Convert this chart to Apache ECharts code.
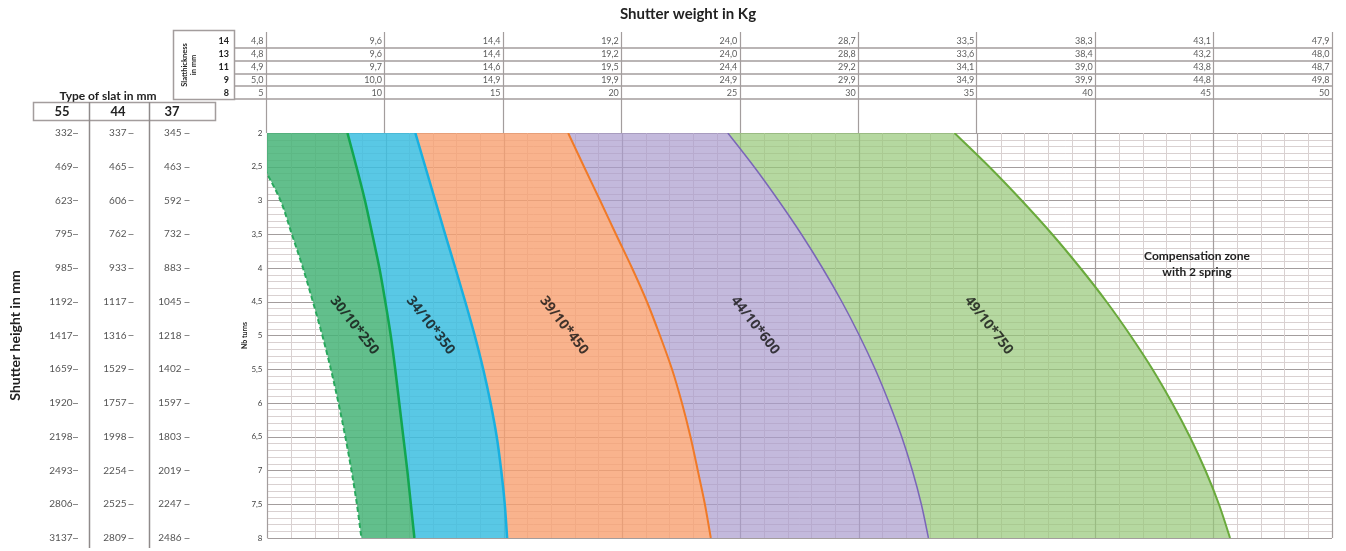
<!DOCTYPE html>
<html><head><meta charset="utf-8">
<script src="https://cdn.jsdelivr.net/npm/echarts@6/dist/echarts.min.js"></script>
<style>html,body{margin:0;padding:0;background:#fff}#c{width:1346px;height:551px}</style>
</head><body><div id="c"></div>
<script>
// ---- data ----
const weightTicks = [5, 10, 15, 20, 25, 30, 35, 40, 45, 50];
const slatThickness = ['14', '13', '11', '9', '8'];
const weightSlat14 = [4.8, 9.6, 14.4, 19.2, 24.0, 28.7, 33.5, 38.3, 43.1, 47.9];
const weightSlat13 = [4.8, 9.6, 14.4, 19.2, 24.0, 28.8, 33.6, 38.4, 43.2, 48.0];
const weightSlat11 = [4.9, 9.7, 14.6, 19.5, 24.4, 29.2, 34.1, 39.0, 43.8, 48.7];
const weightSlat9  = [5.0, 10.0, 14.9, 19.9, 24.9, 29.9, 34.9, 39.9, 44.8, 49.8];
const weightSlat8  = [5, 10, 15, 20, 25, 30, 35, 40, 45, 50];

const turns = [2, 2.5, 3, 3.5, 4, 4.5, 5, 5.5, 6, 6.5, 7, 7.5, 8];
const slatTypes = ['55', '44', '37'];
const height55 = [332, 469, 623, 795, 985, 1192, 1417, 1659, 1920, 2198, 2493, 2806, 3137];
const height44 = [337, 465, 606, 762, 933, 1117, 1316, 1529, 1757, 1998, 2254, 2525, 2809];
const height37 = [345, 463, 592, 732, 883, 1045, 1218, 1402, 1597, 1803, 2019, 2247, 2486];

const springNames = ['30/10*250', '34/10*350', '39/10*450', '44/10*600', '49/10*750'];
// boundary curves: weight (kg) at each value of turns
const boundary0 = [4.11, 4.83, 5.55, 6.03, 6.50, 6.92, 7.32, 7.68, 8.00, 8.29, 8.55, 8.78, 8.97];
const boundary1 = [8.38, 8.76, 9.12, 9.43, 9.73, 9.98, 10.21, 10.40, 10.57, 10.74, 10.91, 11.06, 11.21];
const boundary2 = [11.25, 11.67, 12.09, 12.51, 12.94, 13.36, 13.76, 14.12, 14.43, 14.69, 14.88, 15.03, 15.13];
const boundary3 = [17.71, 18.38, 19.06, 19.73, 20.41, 21.04, 21.59, 22.10, 22.52, 22.88, 23.19, 23.49, 23.74];
const boundary4 = [24.46, 25.57, 26.60, 27.57, 28.46, 29.28, 30.02, 30.69, 31.28, 31.81, 32.26, 32.64, 32.94];
const boundary5 = [34.04, 35.51, 36.88, 38.17, 39.36, 40.47, 41.48, 42.41, 43.24, 43.99, 44.65, 45.22, 45.69];

// ---- styles ----
const boundaries = [boundary0, boundary1, boundary2, boundary3, boundary4, boundary5];
const bandFill = ['rgba(70,180,120,0.85)', 'rgba(60,190,225,0.85)', 'rgba(247,160,112,0.8)', 'rgba(170,155,205,0.7)', 'rgba(150,200,120,0.7)'];
const lineColor = ['#2aa85e', '#12a650', '#19b0e0', '#f07a28', '#7a66b8', '#6aaa3c'];
const lineWidth = [2, 2.5, 2.5, 2, 1.5, 2];
const FONT = 'Lato';
const majorGrid = '#a39d9d';
const minorGrid = '#d9d1d1';
const comma = v => String(v).replace('.', ',');

const weightRows = [weightSlat14, weightSlat13, weightSlat11, weightSlat9, weightSlat8];
const headerData = [];
weightRows.forEach((row, r) => row.forEach((w, i) => {
  headerData.push([weightTicks[i], slatThickness[r], r === 4 ? String(w) : w.toFixed(1).replace('.', ',')]);
}));

// smooth (Catmull-Rom) path through pixel points
function splinePath(pts, start) {
  let d = (start ? 'M' : 'L') + pts[0][0] + ' ' + pts[0][1];
  for (let i = 0; i < pts.length - 1; i++) {
    const p0 = pts[Math.max(i - 1, 0)], p1 = pts[i], p2 = pts[i + 1], p3 = pts[Math.min(i + 2, pts.length - 1)];
    const c1 = [p1[0] + (p2[0] - p0[0]) / 6, p1[1] + (p2[1] - p0[1]) / 6];
    const c2 = [p2[0] - (p3[0] - p1[0]) / 6, p2[1] - (p3[1] - p1[1]) / 6];
    d += ' C' + c1[0] + ' ' + c1[1] + ' ' + c2[0] + ' ' + c2[1] + ' ' + p2[0] + ' ' + p2[1];
  }
  return d;
}
function curvePts(api, b) { return turns.map((t, j) => api.coord([b[j], t])); }

function sideAxis(values, offset, margin, extra) {
  return Object.assign({
    gridIndex: 3, type: 'value', min: 2, max: 8, interval: 0.5, inverse: true,
    position: 'left', offset: offset,
    axisLine: { show: false },
    axisTick: { show: true, length: 5, lineStyle: { color: '#8a8a8a' } },
    axisLabel: { margin: margin, fontFamily: FONT, fontSize: 10, color: '#555',
      formatter: v => values[Math.round((v - 2) / 0.5)] },
    splitLine: { show: false }
  }, extra || {});
}

const chart = echarts.init(document.getElementById('c'));
const series = [];

series.push({
  type: 'custom', name: 'bands', xAxisIndex: 3, yAxisIndex: 3, clip: true, z: 1, silent: true,
  data: springNames.map((n, i) => [(boundaries[i][6] + boundaries[i + 1][6]) / 2, turns[6]]),
  renderItem(params, api) {
    const i = params.dataIndex;
    const L = curvePts(api, boundaries[i]);
    const R = curvePts(api, boundaries[i + 1]).reverse();
    const d = splinePath(L, true) + ' ' + splinePath(R, false) + ' Z';
    return { type: 'path', shape: { pathData: d }, style: { fill: bandFill[i], stroke: null } };
  }
});

series.push({
  type: 'custom', name: 'boundaries', xAxisIndex: 3, yAxisIndex: 3, clip: true, z: 3, silent: true,
  data: boundaries.map(b => [b[6], turns[6]]),
  renderItem(params, api) {
    const k = params.dataIndex;
    const d = splinePath(curvePts(api, boundaries[k]), true);
    return { type: 'path', shape: { pathData: d },
      style: { fill: null, stroke: lineColor[k], lineWidth: lineWidth[k], lineDash: k === 0 ? [5, 3] : null } };
  }
});

const mixAt = (b) => 0.3 * b[5] + 0.7 * b[6];
series.push({
  type: 'scatter', xAxisIndex: 3, yAxisIndex: 3, symbolSize: 1, z: 5, silent: true,
  itemStyle: { color: 'transparent' },
  data: springNames.map((n, i) => [
    (mixAt(boundaries[i]) + mixAt(boundaries[i + 1])) / 2,
    0.3 * turns[5] + 0.7 * turns[6], n]),
  label: { show: true, position: 'inside', rotate: -52, formatter: p => p.data[2],
    fontFamily: 'Open Sans', fontWeight: 'bold', fontSize: 14, color: '#111' }
});

series.push({
  type: 'scatter', xAxisIndex: 2, yAxisIndex: 2, symbolSize: 1, silent: true,
  itemStyle: { color: 'transparent' },
  data: headerData,
  label: { show: true, position: 'left', distance: 2, formatter: p => p.data[2],
    fontFamily: FONT, fontSize: 9, color: '#333' }
});

chart.setOption({
  animation: false,
  backgroundColor: '#fff',
  grid: [
    { left: 266, right: 14, top: 32, height: 101 },
    { left: 235, right: 14, top: 35, height: 64 },
    { left: 266, right: 14, top: 35, height: 64 },
    { left: 266, right: 14, top: 133, bottom: 13 }
  ],
  xAxis: [
    { gridIndex: 0, type: 'value', min: 5, max: 50, interval: 5,
      axisLine: { show: false }, axisTick: { show: false }, axisLabel: { show: false },
      splitLine: { show: true, lineStyle: { color: majorGrid, width: 1.2 } } },
    { gridIndex: 1, type: 'value', min: 0, max: 1, show: false },
    { gridIndex: 2, type: 'value', min: 5, max: 50, interval: 5, show: false },
    { gridIndex: 3, type: 'value', min: 5, max: 50, interval: 5,
      axisLine: { show: false }, axisTick: { show: false }, axisLabel: { show: false },
      splitLine: { show: true, lineStyle: { color: majorGrid, width: 1.2 } },
      minorTick: { show: false, splitNumber: 5 },
      minorSplitLine: { show: true, lineStyle: { color: minorGrid, width: 1 } } }
  ],
  yAxis: [
    { gridIndex: 0, type: 'value', min: 0, max: 1, show: false },
    { gridIndex: 1, type: 'category', data: slatThickness, inverse: true,
      axisLine: { show: false }, axisTick: { show: false },
      axisLabel: { interval: 0, margin: 6, fontFamily: FONT, fontSize: 9, fontWeight: 'bold', color: '#222' },
      splitLine: { show: true, interval: 0, showMinLine: false, lineStyle: { color: majorGrid, width: 1.5 } } },
    { gridIndex: 2, type: 'category', data: slatThickness, inverse: true, show: false },
    { gridIndex: 3, type: 'value', min: 2, max: 8, interval: 0.5, inverse: true,
      name: 'Nb turns', nameLocation: 'middle', nameGap: 19, nameMoveOverlap: false,
      nameTextStyle: { fontFamily: FONT, fontSize: 7, fontWeight: 'bold', color: '#222' },
      axisLine: { show: false }, axisTick: { show: false },
      axisLabel: { margin: 5, fontFamily: FONT, fontSize: 8, color: '#444', formatter: comma },
      splitLine: { show: true, lineStyle: { color: majorGrid, width: 1.2 } },
      minorTick: { show: false, splitNumber: 5 },
      minorSplitLine: { show: true, lineStyle: { color: minorGrid, width: 1 } } },
    sideAxis(height37, 78, 8),
    sideAxis(height44, 134, 7),
    sideAxis(height55, 189.5, 5.5, {
      name: 'Shutter height in mm', nameLocation: 'middle', nameRotate: 90, nameGap: 56,
      nameTextStyle: { fontFamily: FONT, fontSize: 14, fontWeight: 'bold', color: '#222' } })
  ],
  series: series,
  graphic: [
    { type: 'text', x: 688, y: 14, style: { text: 'Shutter weight in Kg',
      font: 'bold 15px Lato', fill: '#222', align: 'center', verticalAlign: 'middle' } },
    { type: 'rect', shape: { x: 173.5, y: 30.5, width: 61, height: 69 },
      style: { fill: 'none', stroke: majorGrid, lineWidth: 1.5 } },
    { type: 'text', x: 189, y: 65, rotation: Math.PI / 2,
      style: { text: 'Slatthickness\nin mm', font: 'bold 7.5px Lato', fill: '#222',
        align: 'center', verticalAlign: 'middle', lineHeight: 9 } },
    { type: 'text', x: 108, y: 96, style: { text: 'Type of slat in mm', font: 'bold 12px Lato',
      fill: '#222', align: 'center', verticalAlign: 'middle' } },
    { type: 'rect', shape: { x: 33.5, y: 102.5, width: 182, height: 18 },
      style: { fill: 'none', stroke: majorGrid, lineWidth: 1.5 } },
    { type: 'line', shape: { x1: 89.5, y1: 102, x2: 89.5, y2: 548 }, style: { stroke: '#8f8a8a', lineWidth: 1.5 } },
    { type: 'line', shape: { x1: 149.5, y1: 102, x2: 149.5, y2: 548 }, style: { stroke: '#8f8a8a', lineWidth: 1.5 } },
    { type: 'text', x: 62, y: 111.5, style: { text: slatTypes[0], font: 'bold 13px Lato', fill: '#222', align: 'center', verticalAlign: 'middle' } },
    { type: 'text', x: 118, y: 111.5, style: { text: slatTypes[1], font: 'bold 13px Lato', fill: '#222', align: 'center', verticalAlign: 'middle' } },
    { type: 'text', x: 172, y: 111.5, style: { text: slatTypes[2], font: 'bold 13px Lato', fill: '#222', align: 'center', verticalAlign: 'middle' } },
    { type: 'text', x: 1197, y: 264, z: 10, style: { text: 'Compensation zone\nwith 2 spring', font: 'bold 12px Lato',
      fill: '#222', align: 'center', verticalAlign: 'middle', lineHeight: 16 } }
  ]
});
</script></body></html>
